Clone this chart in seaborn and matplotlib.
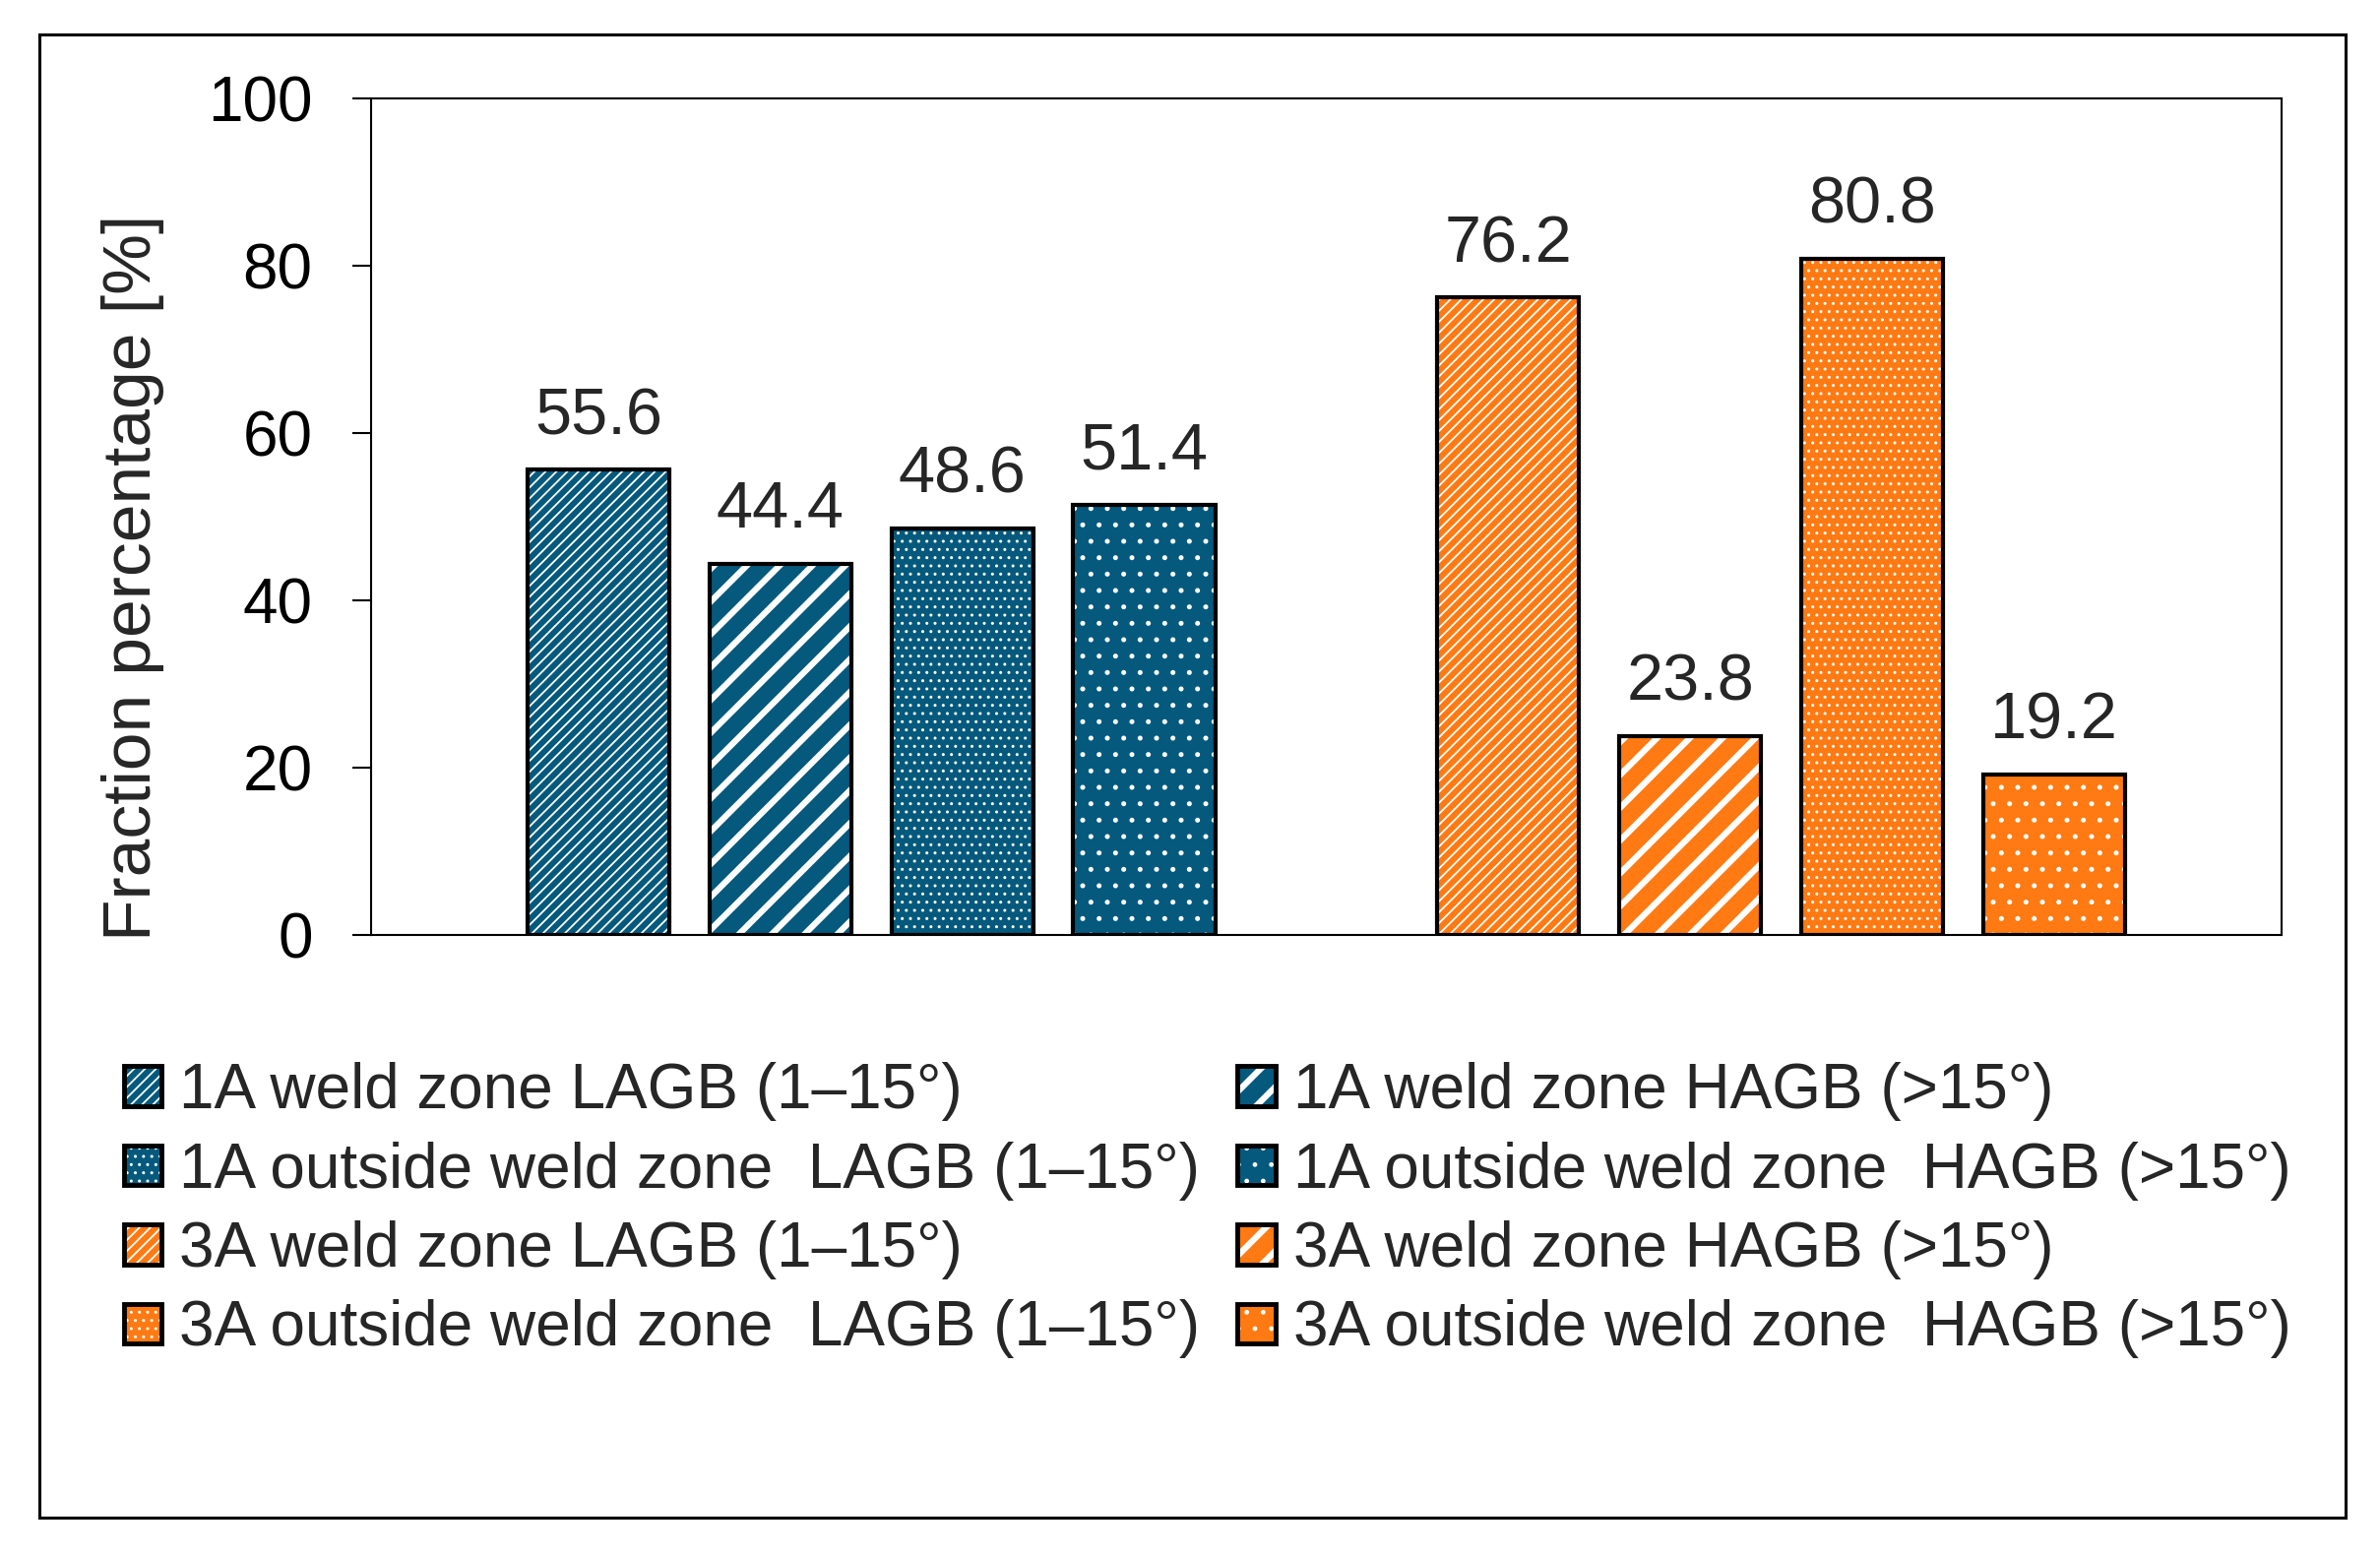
import matplotlib
matplotlib.use('Agg')
import pandas as pd
import matplotlib.pyplot as plt
from matplotlib.patches import Patch, Rectangle
from matplotlib.legend_handler import HandlerTuple
import seaborn as sns

# series names, values and looks
labels = ['1A weld zone LAGB (1–15°)', '1A weld zone HAGB (>15°)',
          '1A outside weld zone  LAGB (1–15°)', '1A outside weld zone  HAGB (>15°)',
          '3A weld zone LAGB (1–15°)', '3A weld zone HAGB (>15°)',
          '3A outside weld zone  LAGB (1–15°)', '3A outside weld zone  HAGB (>15°)']
values = [55.6, 44.4, 48.6, 51.4, 76.2, 23.8, 80.8, 19.2]
blue = '#04597C'
orange = '#FF7A12'
colors = [blue] * 4 + [orange] * 4
hatches = ['///', '/', '..', '.'] * 2
hatch_lw = [1.3, 4.5, 1.0, 1.2] * 2
yticks = [0, 20, 40, 60, 80, 100]

sns.set_style('ticks')
plt.rcParams['font.family'] = ['Liberation Sans', 'DejaVu Sans']
plt.rcParams['hatch.linewidth'] = 1.0


def set_hatch_lw(artist, lw):
    # newer matplotlib keeps it on the patch, older reads rcParams at draw time
    if hasattr(artist, 'set_hatch_linewidth'):
        artist.set_hatch_linewidth(lw)
    if hasattr(artist, '_hatch_linewidth'):
        artist._hatch_linewidth = lw
    orig = artist.draw

    def draw(renderer):
        with plt.rc_context({'hatch.linewidth': lw}):
            orig(renderer)
    artist.draw = draw


df = pd.DataFrame({'group': labels, 'value': values})
# empty slot between the 1A and 3A bars
order = labels[:4] + [''] + labels[4:]

fig = plt.figure(figsize=(24.18, 15.8), dpi=100)
ax = fig.add_axes([0.1559, 0.3987, 0.8027, 0.5380])

sns.barplot(data=df, x='group', y='value', hue='group', order=order,
            hue_order=labels, palette=colors, width=0.78, saturation=1,
            legend=False, ax=ax, linewidth=0)

for i, cont in enumerate(ax.containers):
    for bar in cont.patches:
        bar.set_hatch(hatches[i])
        bar.set_edgecolor('white')
        bar.set_linewidth(0)
        set_hatch_lw(bar, hatch_lw[i])
        # black outline on top
        ax.add_patch(Rectangle(bar.get_xy(), bar.get_width(), bar.get_height(),
                               fill=False, ec='black', lw=3, zorder=bar.get_zorder() + 0.1))
    ax.bar_label(cont, fmt='%.1f', padding=16, fontsize=48)

ax.set_xlim(-1.25, 9.25)
ax.set_ylim(0, 100)
ax.set_yticks(yticks)
ax.tick_params(axis='y', length=13.7, width=1.5, pad=29, labelsize=46, colors='black')
ax.tick_params(axis='x', bottom=False, labelbottom=False)
ax.set_xlabel('')
ax.set_ylabel('Fraction percentage [%]', fontsize=50)
ax.yaxis.set_label_coords(-0.108, 0.427)
for s in ax.spines.values():
    s.set_color('black')
    s.set_linewidth(1.5)

# legend, row-wise order like the original
handles = []
for i in range(len(labels)):
    p1 = Patch(facecolor=colors[i], edgecolor='white', hatch=hatches[i], lw=0)
    p2 = Patch(fill=False, edgecolor='black', lw=3.5)
    handles.append((p1, p2))
idx = [0, 2, 4, 6, 1, 3, 5, 7]
leg = fig.legend([handles[i] for i in idx], [labels[i] for i in idx],
                 handler_map={tuple: HandlerTuple(ndivide=1, pad=0)},
                 ncol=2, loc='upper left', bbox_to_anchor=(0.052, 0.317),
                 fontsize=46, handlelength=0.6, handleheight=0.6, handletextpad=0.28,
                 columnspacing=0.6, labelspacing=0.32, borderpad=0, borderaxespad=0,
                 frameon=False)
for p in leg.findobj(Rectangle):
    h = p.get_hatch()
    if h == '/':
        set_hatch_lw(p, 4.5)
    elif h == '///':
        set_hatch_lw(p, 1.3)

# outer frame
fig.add_artist(Rectangle((0.01654, 0.02405), 0.969, 0.9538, transform=fig.transFigure,
                         fill=False, ec='black', lw=2.2))

fig.savefig('out.png', dpi=100)
